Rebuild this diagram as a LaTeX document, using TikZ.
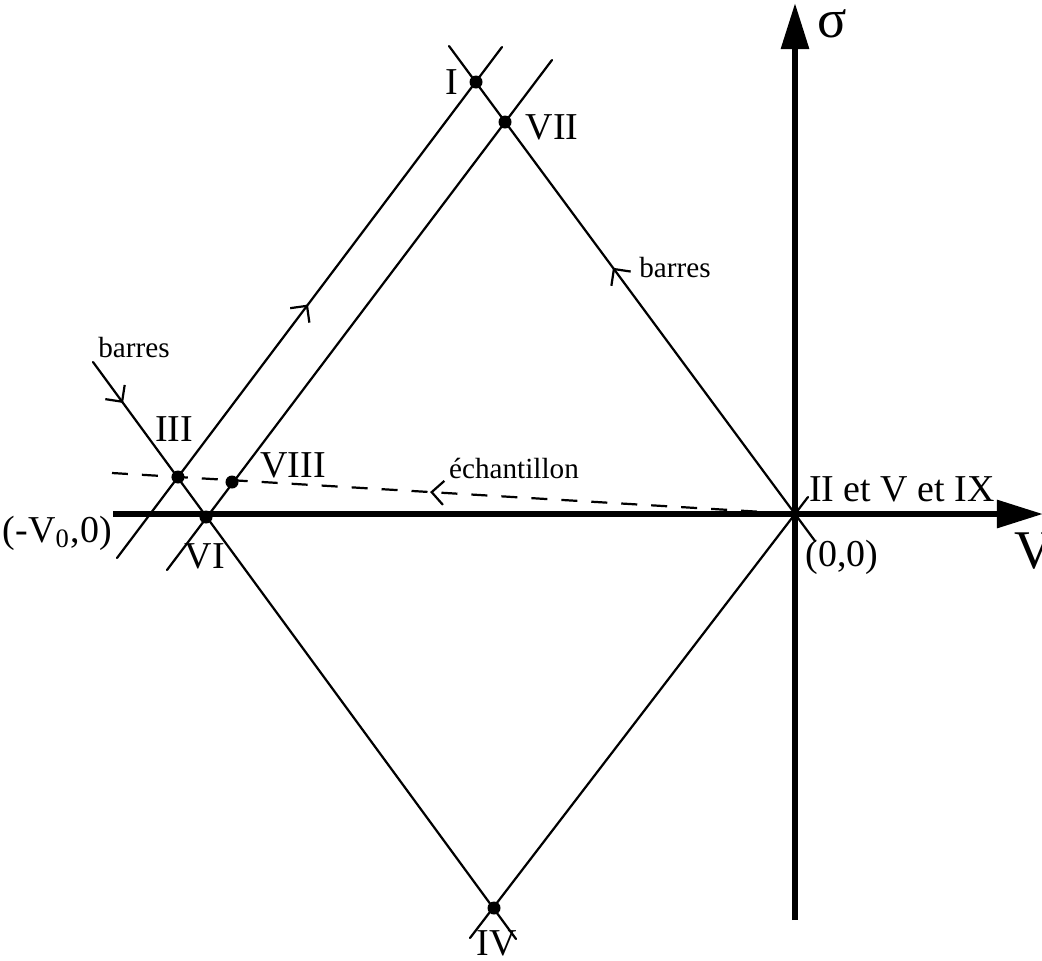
\documentclass[tikz,border=0pt]{standalone}
\usepackage{fontspec}
\setmainfont{Liberation Serif}
\usetikzlibrary{arrows.meta}
\usetikzlibrary{decorations.markings}
\tikzstyle{every node}=[font=\fontsize{10.8}{13}\selectfont,inner sep=0pt]
\tikzstyle{every path}=[line width=0.63pt,line cap=round,line join=round]
\tikzset{flow/.style={postaction={decorate},decoration={markings,
	mark=at position #1 with {\arrow{Straight Barb[length=1.2mm,width=2.4mm]}}}}}

\begin{document}
\begin{tikzpicture}[x=0.01cm,y=-0.01cm]
		\tikzstyle{axis} = [line width=1.7pt,line cap=butt,-{Triangle[length=4.6mm,width=2.7mm]}]
		\tikzstyle{dot} = [circle,fill,inner sep=0pt,minimum size=1.3mm]
		\tikzstyle{small} = [font=\fontsize{8.3}{10}\selectfont]
		\tikzstyle{big} = [font=\fontsize{15.5}{18}\selectfont]
		
		\useasboundingbox (0,0) rectangle (1042,960);
		
		\coordinate (O) at (795,514);
		
		\coordinate (h1) at (113,514);
		\coordinate (h2) at (1043,514);
		\coordinate (v1) at (795,920);
		\coordinate (v2) at (795,3);
		
		\coordinate (a1) at (117,558);
		\coordinate (a2) at (502,47);
		\coordinate (b1) at (167,570);
		\coordinate (b2) at (552,60);
		\coordinate (c1) at (815,541);
		\coordinate (c2) at (449,46);
		\coordinate (d1) at (93,362);
		\coordinate (d2) at (516,939);
		\coordinate (e1) at (470,938);
		\coordinate (e2) at (808,497);
		\coordinate (s1) at (830,516);
		\coordinate (s2) at (112,473);
		
		\draw[axis] (h1) -- (h2);
		\draw[axis] (v1) -- (v2);
		
		\draw[flow=0.496] (a1) -- (a2);
		\draw (b1) -- (b2);
		\draw[flow=0.552] (c1) -- (c2);
		\draw[flow=0.071] (d1) -- (d2);
		\draw (e1) -- (e2);
		\draw[dash pattern=on 1.6mm off 1.4mm,dash phase=1.7mm,line cap=butt,flow=0.557] (s1) -- (s2);
		
		\node[dot] (I) at (476,82) {};
		\node[dot] (VII) at (505,122) {};
		\node[dot] (III) at (178,477) {};
		\node[dot] (VIII) at (232,482) {};
		\node[dot] (VI) at (206,517) {};
		\node[dot] (IV) at (494,908) {};
		
		\node (lI) at (452,82) {I};
		\node (lVII) at (552,127) {VII};
		\node (lIII) at (174,429) {III};
		\node (lVIII) at (293,465) {VIII};
		\node (lVI) at (205,556) {VI};
		\node (lIV) at (497,943) {IV};
		\node (lO) at (842,557) {(0,0)};
		\node (lII) at (902,489) {II et V et IX};
		\node[anchor=east] (lV0) at (113,533) {(-V\textsubscript{0},0)};
		
		\node[small] (lbar1) at (675,268) {barres};
		\node[small] (lbar2) at (134,348) {barres};
		\node[small] (lech) at (514,468) {échantillon};
		
		\node[big] (lsig) at (832,24) {σ};
		\node[big] (lV) at (1034,551) {V};
		
	\end{tikzpicture}
\end{document}
